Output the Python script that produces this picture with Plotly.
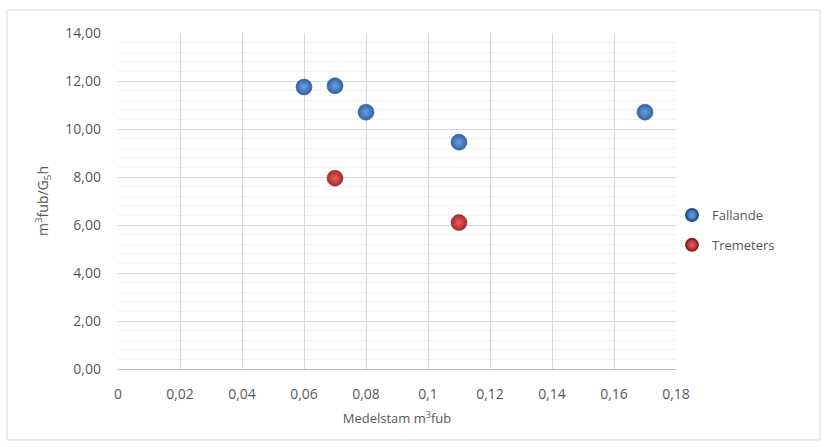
import plotly.graph_objects as go

fallande_x = [0.06, 0.07, 0.08, 0.11, 0.17]
fallande_y = [11.75, 11.8, 10.7, 9.45, 10.7]
tremeters_x = [0.07, 0.11]
tremeters_y = [7.95, 6.1]

W, H = 827, 447
L, R, T, B = 118, 151, 33, 78
pw, ph = W - L - R, H - T - B

fig = go.Figure()
fig.add_trace(go.Scatter(
    x=fallande_x, y=fallande_y, mode="markers", name="Fallande", legendgroup="a",
    marker=dict(size=16, color="#2E64A8",
                gradient=dict(type="radial", color="#6FA0DC"),
                line=dict(width=0.5, color="#24508A"))))
fig.add_trace(go.Scatter(
    x=tremeters_x, y=tremeters_y, mode="markers", name="Tremeters", legendgroup="b",
    marker=dict(size=16, color="#A82A28",
                gradient=dict(type="radial", color="#E06060"),
                line=dict(width=0.5, color="#8A2020"))))

font = dict(family="Open Sans, Liberation Sans, sans-serif", size=14, color="#595959")

fig.update_layout(
    width=W, height=H,
    margin=dict(l=L, r=R, t=T, b=B),
    paper_bgcolor="white", plot_bgcolor="white",
    separators=", ",
    font=font,
    showlegend=True,
    legend=dict(x=(672 - L) / pw, y=(369 - 230) / ph, xanchor="left", yanchor="middle",
                font=dict(size=13, color="#595959"), itemsizing="constant",
                tracegroupgap=10, bgcolor="rgba(0,0,0,0)"),
    xaxis=dict(range=[0, 0.18], dtick=0.02, tick0=0, showgrid=True, gridcolor="#D9D9D9",
               gridwidth=1, zeroline=False, showline=True, linecolor="#BFBFBF",
               ticks="", ticklabelstandoff=12,
               title=dict(text="Medelstam m<sup>3</sup>fub", standoff=12, font=dict(size=13))),
    yaxis=dict(range=[0, 14], dtick=2, tickformat=".2f", showgrid=True, gridcolor="#D9D9D9",
               gridwidth=1, zeroline=False, showline=False, ticks="",
               ticklabelstandoff=16,
               minor=dict(dtick=0.4, showgrid=True, gridcolor="#F0F0F0", gridwidth=1),
               title=dict(text="m<sup>3</sup>fub/G<sub>5</sub>h", standoff=13, font=dict(size=14))),
    shapes=[dict(type="rect", xref="paper", yref="paper",
                 x0=(7 - L) / pw, x1=(820 - L) / pw,
                 y0=(369 - 440) / ph, y1=(369 - 10) / ph,
                 line=dict(color="#D9D9D9", width=1), fillcolor="rgba(0,0,0,0)", layer="below")],
)

fig.write_html("out.html", config={"displayModeBar": False},
               post_script="document.body.style.margin='0';document.body.style.overflow='hidden';")
